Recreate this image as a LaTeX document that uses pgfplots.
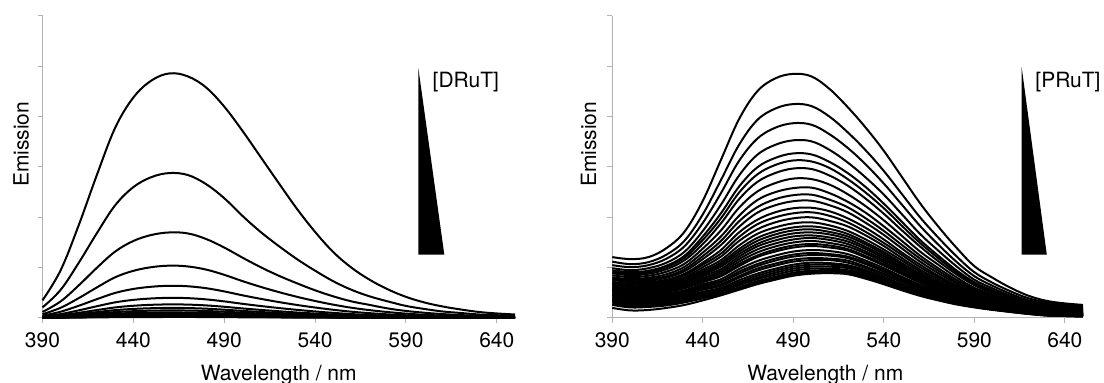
\documentclass[border=0pt]{standalone}
\usepackage{pgfplots}
\pgfplotsset{compat=1.18}
\usepackage{fontspec}
\setmainfont{TeX Gyre Heros}

\pgfplotsset{
  emission panel/.style={
    scale only axis,
    height=151pt,
    xmin=390, xmax=650, ymin=0, ymax=6,
    axis lines*=left,
    axis line style={draw=black!30, line width=0.5pt},
    xtick={390,440,490,540,590,640},
    ytick={0,1,2,3,4,5,6},
    yticklabels={},
    tick style={draw=black!30, line width=0.5pt},
    tick align=outside,
    major tick length=2.5pt,
    /pgf/number format/assume math mode=true,
    /pgf/number format/1000 sep={},
    xticklabel style={font=\fontsize{10.5}{12}\selectfont, anchor=north, inner sep=0pt, yshift=-4.5pt},
    label style={font=\fontsize{10.5}{12}\selectfont, inner sep=0pt},
    xlabel={Wavelength / nm},
    ylabel={Emission},
    clip=false,
  },
  sp/.style={draw=black, line width=1pt, smooth, tension=0.6, mark=none},
  wedge/.style={fill=black, draw=none, sharp plot, mark=none},
}

\begin{document}
\begin{tikzpicture}
\useasboundingbox (-21.25pt,-32.5pt) rectangle (530.75pt,159pt);

% ---------------- DRuT titration ----------------
\begin{axis}[emission panel,
  width=236.25pt,
  at={(0pt,0pt)}, anchor=south west,
  xlabel style={at={(axis description cs:0.5,-0.207)}, anchor=base},
  ylabel style={at={(axis description cs:-0.0296,0.575)}, anchor=base},
]
\addplot[sp] coordinates {(390,0.35)(400,0.95)(410,1.85)(420,2.85)(430,3.78)(440,4.38)(450,4.72)(460,4.86)(470,4.80)(480,4.58)(490,4.20)(500,3.72)(510,3.20)(520,2.68)(530,2.17)(540,1.71)(550,1.31)(560,1.00)(570,0.76)(580,0.57)(590,0.42)(600,0.31)(610,0.23)(620,0.17)(630,0.12)(640,0.09)(650,0.07)};
\addplot[sp] coordinates {(390,0.21)(400,0.56)(410,1.10)(420,1.69)(430,2.24)(440,2.60)(450,2.80)(460,2.88)(470,2.84)(480,2.66)(490,2.38)(500,2.03)(510,1.71)(520,1.43)(530,1.17)(540,0.94)(550,0.73)(560,0.56)(570,0.43)(580,0.33)(590,0.24)(600,0.18)(610,0.13)(620,0.10)(630,0.07)(640,0.055)(650,0.04)};
\addplot[sp] coordinates {(390,0.12)(400,0.33)(410,0.65)(420,1.00)(430,1.32)(440,1.53)(450,1.65)(460,1.70)(470,1.68)(480,1.57)(490,1.40)(500,1.20)(510,1.01)(520,0.84)(530,0.69)(540,0.55)(550,0.43)(560,0.33)(570,0.26)(580,0.19)(590,0.14)(600,0.105)(610,0.078)(620,0.058)(630,0.043)(640,0.032)(650,0.024)};
\addplot[sp] coordinates {(390,0.075)(400,0.203)(410,0.396)(420,0.609)(430,0.809)(440,0.937)(450,1.010)(460,1.040)(470,1.024)(480,0.962)(490,0.858)(500,0.733)(510,0.619)(520,0.515)(530,0.421)(540,0.338)(550,0.265)(560,0.204)(570,0.156)(580,0.118)(590,0.087)(600,0.064)(610,0.048)(620,0.035)(630,0.026)(640,0.020)(650,0.015)};
\addplot[sp] coordinates {(390,0.046)(400,0.125)(410,0.244)(420,0.375)(430,0.498)(440,0.577)(450,0.621)(460,0.640)(470,0.630)(480,0.592)(490,0.528)(500,0.451)(510,0.381)(520,0.317)(530,0.259)(540,0.208)(550,0.163)(560,0.125)(570,0.096)(580,0.072)(590,0.054)(600,0.040)(610,0.029)(620,0.022)(630,0.016)(640,0.012)(650,0.009)};
\addplot[sp] coordinates {(390,0.029)(400,0.078)(410,0.152)(420,0.234)(430,0.311)(440,0.360)(450,0.388)(460,0.400)(470,0.394)(480,0.370)(490,0.330)(500,0.282)(510,0.238)(520,0.198)(530,0.162)(540,0.130)(550,0.102)(560,0.078)(570,0.060)(580,0.045)(590,0.034)(600,0.025)(610,0.018)(620,0.014)(630,0.010)(640,0.008)(650,0.006)};
\addplot[sp] coordinates {(390,0.019)(400,0.053)(410,0.103)(420,0.158)(430,0.210)(440,0.243)(450,0.262)(460,0.270)(470,0.266)(480,0.250)(490,0.223)(500,0.190)(510,0.161)(520,0.134)(530,0.109)(540,0.088)(550,0.069)(560,0.053)(570,0.041)(580,0.031)(590,0.023)(600,0.017)(610,0.012)(620,0.009)(630,0.007)(640,0.005)(650,0.004)};
\addplot[sp] coordinates {(390,0.014)(400,0.039)(410,0.076)(420,0.117)(430,0.156)(440,0.180)(450,0.194)(460,0.200)(470,0.197)(480,0.185)(490,0.165)(500,0.141)(510,0.119)(520,0.099)(530,0.081)(540,0.065)(550,0.051)(560,0.039)(570,0.030)(580,0.023)(590,0.017)(600,0.012)(610,0.009)(620,0.007)(630,0.005)(640,0.004)(650,0.003)};
\addplot[sp] coordinates {(390,0.011)(400,0.029)(410,0.057)(420,0.088)(430,0.117)(440,0.135)(450,0.146)(460,0.150)(470,0.148)(480,0.139)(490,0.124)(500,0.106)(510,0.089)(520,0.074)(530,0.061)(540,0.049)(550,0.038)(560,0.029)(570,0.023)(580,0.017)(590,0.013)(600,0.009)(610,0.007)(620,0.005)(630,0.004)(640,0.003)(650,0.002)};
\addplot[sp] coordinates {(390,0.008)(400,0.021)(410,0.042)(420,0.064)(430,0.086)(440,0.099)(450,0.107)(460,0.110)(470,0.108)(480,0.102)(490,0.091)(500,0.078)(510,0.065)(520,0.054)(530,0.045)(540,0.036)(550,0.028)(560,0.022)(570,0.017)(580,0.012)(590,0.009)(600,0.007)(610,0.005)(620,0.004)(630,0.003)(640,0.002)(650,0.002)};
\addplot[sp] coordinates {(390,0.006)(400,0.016)(410,0.030)(420,0.047)(430,0.062)(440,0.072)(450,0.078)(460,0.080)(470,0.079)(480,0.074)(490,0.066)(500,0.056)(510,0.048)(520,0.040)(530,0.032)(540,0.026)(550,0.020)(560,0.016)(570,0.012)(580,0.009)(590,0.007)(600,0.005)(610,0.004)(620,0.003)(630,0.002)(640,0.002)(650,0.001)};
\addplot[sp] coordinates {(390,0.004)(400,0.011)(410,0.021)(420,0.032)(430,0.043)(440,0.050)(450,0.053)(460,0.055)(470,0.054)(480,0.051)(490,0.045)(500,0.039)(510,0.033)(520,0.027)(530,0.022)(540,0.018)(550,0.014)(560,0.011)(570,0.008)(580,0.006)(590,0.005)(600,0.003)(610,0.003)(620,0.002)(630,0.001)(640,0.001)(650,0.001)};
\addplot[sp] coordinates {(390,0.003)(400,0.007)(410,0.013)(420,0.021)(430,0.027)(440,0.032)(450,0.034)(460,0.035)(470,0.034)(480,0.032)(490,0.029)(500,0.025)(510,0.021)(520,0.017)(530,0.014)(540,0.011)(550,0.009)(560,0.007)(570,0.005)(580,0.004)(590,0.003)(600,0.002)(610,0.002)(620,0.001)(630,0.001)(640,0.001)(650,0.000)};
\addplot[sp] coordinates {(390,0.001)(400,0.004)(410,0.008)(420,0.012)(430,0.016)(440,0.018)(450,0.019)(460,0.020)(470,0.020)(480,0.019)(490,0.017)(500,0.014)(510,0.012)(520,0.010)(530,0.008)(540,0.007)(550,0.005)(560,0.004)(570,0.003)(580,0.002)(590,0.002)(600,0.001)(610,0.001)(620,0.001)(630,0.001)(640,0.000)(650,0.000)};
% concentration wedge
\addplot[wedge] coordinates {(596.8,4.97)(596.8,1.26)(611.1,1.26)} -- cycle;
\node[anchor=base west, inner sep=0pt, font=\fontsize{10.5}{12}\selectfont] at (axis cs:604.5,4.585) {[DRuT]};
\end{axis}

% ---------------- PRuT titration ----------------
\begin{axis}[emission panel,
  width=235.35pt,
  at={(284.9pt,0pt)}, anchor=south west,
  xlabel style={at={(axis description cs:0.4527,-0.207)}, anchor=base},
  ylabel style={at={(axis description cs:-0.0346,0.575)}, anchor=base},
]
\addplot[sp] coordinates {(390,1.21)(400,1.17)(410,1.21)(420,1.39)(430,1.72)(440,2.33)(450,3.14)(460,3.95)(470,4.50)(480,4.76)(490,4.85)(500,4.80)(510,4.55)(520,4.19)(530,3.78)(540,3.32)(550,2.80)(560,2.28)(570,1.82)(580,1.40)(590,1.03)(600,0.80)(610,0.60)(620,0.44)(630,0.34)(640,0.29)(650,0.26)};
\addplot[sp] coordinates {(390,1.12)(400,1.07)(410,1.11)(420,1.26)(430,1.54)(440,2.06)(450,2.74)(460,3.44)(470,3.93)(480,4.16)(490,4.25)(500,4.21)(510,4.00)(520,3.69)(530,3.33)(540,2.92)(550,2.46)(560,2.00)(570,1.60)(580,1.23)(590,0.91)(600,0.70)(610,0.53)(620,0.39)(630,0.31)(640,0.26)(650,0.23)};
\addplot[sp] coordinates {(390,1.05)(400,1.01)(410,1.05)(420,1.18)(430,1.43)(440,1.89)(450,2.48)(460,3.12)(470,3.56)(480,3.78)(490,3.87)(500,3.84)(510,3.65)(520,3.38)(530,3.05)(540,2.67)(550,2.25)(560,1.83)(570,1.46)(580,1.12)(590,0.83)(600,0.64)(610,0.48)(620,0.35)(630,0.28)(640,0.24)(650,0.21)};
\addplot[sp] coordinates {(390,0.99)(400,0.95)(410,0.99)(420,1.10)(430,1.32)(440,1.73)(450,2.25)(460,2.83)(470,3.24)(480,3.44)(490,3.53)(500,3.51)(510,3.34)(520,3.09)(530,2.79)(540,2.45)(550,2.06)(560,1.67)(570,1.34)(580,1.03)(590,0.76)(600,0.59)(610,0.44)(620,0.32)(630,0.25)(640,0.21)(650,0.19)};
\addplot[sp] coordinates {(390,0.95)(400,0.91)(410,0.94)(420,1.04)(430,1.24)(440,1.62)(450,2.08)(460,2.61)(470,2.99)(480,3.18)(490,3.27)(500,3.25)(510,3.10)(520,2.88)(530,2.60)(540,2.27)(550,1.91)(560,1.55)(570,1.24)(580,0.95)(590,0.71)(600,0.55)(610,0.41)(620,0.30)(630,0.23)(640,0.20)(650,0.18)};
\addplot[sp] coordinates {(390,0.92)(400,0.88)(410,0.91)(420,1.01)(430,1.20)(440,1.55)(450,1.98)(460,2.49)(470,2.85)(480,3.04)(490,3.13)(500,3.11)(510,2.98)(520,2.76)(530,2.49)(540,2.18)(550,1.83)(560,1.49)(570,1.19)(580,0.91)(590,0.68)(600,0.53)(610,0.39)(620,0.29)(630,0.22)(640,0.19)(650,0.17)};
\addplot[sp] coordinates {(390,0.89)(400,0.85)(410,0.88)(420,0.97)(430,1.15)(440,1.47)(450,1.88)(460,2.36)(470,2.70)(480,2.88)(490,2.97)(500,2.96)(510,2.83)(520,2.63)(530,2.37)(540,2.07)(550,1.74)(560,1.42)(570,1.13)(580,0.87)(590,0.65)(600,0.50)(610,0.37)(620,0.27)(630,0.21)(640,0.18)(650,0.16)};
\addplot[sp] coordinates {(390,0.85)(400,0.81)(410,0.84)(420,0.92)(430,1.08)(440,1.38)(450,1.74)(460,2.19)(470,2.51)(480,2.68)(490,2.77)(500,2.76)(510,2.65)(520,2.46)(530,2.22)(540,1.94)(550,1.63)(560,1.32)(570,1.06)(580,0.81)(590,0.60)(600,0.47)(610,0.35)(620,0.25)(630,0.19)(640,0.17)(650,0.15)};
\addplot[sp] coordinates {(390,0.81)(400,0.77)(410,0.80)(420,0.87)(430,1.02)(440,1.30)(450,1.62)(460,2.03)(470,2.34)(480,2.50)(490,2.58)(500,2.59)(510,2.48)(520,2.31)(530,2.09)(540,1.82)(550,1.53)(560,1.24)(570,0.99)(580,0.76)(590,0.57)(600,0.44)(610,0.33)(620,0.24)(630,0.18)(640,0.15)(650,0.13)};
\addplot[sp] coordinates {(390,0.78)(400,0.74)(410,0.77)(420,0.83)(430,0.97)(440,1.23)(450,1.53)(460,1.92)(470,2.20)(480,2.36)(490,2.44)(500,2.45)(510,2.35)(520,2.20)(530,1.98)(540,1.73)(550,1.45)(560,1.18)(570,0.94)(580,0.72)(590,0.54)(600,0.42)(610,0.31)(620,0.22)(630,0.17)(640,0.14)(650,0.13)};
\addplot[sp] coordinates {(390,0.76)(400,0.71)(410,0.74)(420,0.80)(430,0.93)(440,1.17)(450,1.45)(460,1.81)(470,2.09)(480,2.24)(490,2.32)(500,2.33)(510,2.24)(520,2.10)(530,1.89)(540,1.65)(550,1.38)(560,1.12)(570,0.89)(580,0.69)(590,0.51)(600,0.40)(610,0.30)(620,0.21)(630,0.16)(640,0.14)(650,0.12)};
\addplot[sp] coordinates {(390,0.72)(400,0.68)(410,0.71)(420,0.76)(430,0.88)(440,1.10)(450,1.35)(460,1.70)(470,1.95)(480,2.10)(490,2.18)(500,2.19)(510,2.12)(520,1.98)(530,1.79)(540,1.56)(550,1.30)(560,1.06)(570,0.84)(580,0.65)(590,0.49)(600,0.37)(610,0.28)(620,0.20)(630,0.15)(640,0.13)(650,0.11)};
\addplot[sp] coordinates {(390,0.70)(400,0.66)(410,0.68)(420,0.73)(430,0.85)(440,1.06)(450,1.28)(460,1.61)(470,1.86)(480,2.00)(490,2.08)(500,2.10)(510,2.03)(520,1.90)(530,1.71)(540,1.49)(550,1.25)(560,1.01)(570,0.81)(580,0.62)(590,0.46)(600,0.36)(610,0.27)(620,0.19)(630,0.14)(640,0.12)(650,0.10)};
\addplot[sp] coordinates {(390,0.68)(400,0.63)(410,0.65)(420,0.70)(430,0.81)(440,1.01)(450,1.22)(460,1.53)(470,1.76)(480,1.90)(490,1.98)(500,2.00)(510,1.93)(520,1.82)(530,1.64)(540,1.43)(550,1.19)(560,0.96)(570,0.77)(580,0.59)(590,0.44)(600,0.34)(610,0.26)(620,0.18)(630,0.14)(640,0.11)(650,0.10)};
\addplot[sp] coordinates {(390,0.65)(400,0.61)(410,0.63)(420,0.68)(430,0.78)(440,0.96)(450,1.15)(460,1.44)(470,1.67)(480,1.80)(490,1.88)(500,1.90)(510,1.84)(520,1.73)(530,1.56)(540,1.36)(550,1.14)(560,0.92)(570,0.73)(580,0.56)(590,0.42)(600,0.33)(610,0.25)(620,0.17)(630,0.13)(640,0.11)(650,0.09)};
\addplot[sp] coordinates {(390,0.63)(400,0.58)(410,0.61)(420,0.65)(430,0.75)(440,0.92)(450,1.10)(460,1.37)(470,1.59)(480,1.72)(490,1.80)(500,1.82)(510,1.77)(520,1.67)(530,1.50)(540,1.31)(550,1.09)(560,0.88)(570,0.70)(580,0.54)(590,0.41)(600,0.31)(610,0.24)(620,0.17)(630,0.12)(640,0.10)(650,0.09)};
\addplot[sp] coordinates {(390,0.61)(400,0.57)(410,0.59)(420,0.63)(430,0.72)(440,0.89)(450,1.06)(460,1.32)(470,1.53)(480,1.66)(490,1.74)(500,1.76)(510,1.71)(520,1.62)(530,1.46)(540,1.27)(550,1.06)(560,0.85)(570,0.68)(580,0.52)(590,0.40)(600,0.30)(610,0.23)(620,0.16)(630,0.12)(640,0.10)(650,0.08)};
\addplot[sp] coordinates {(390,0.60)(400,0.55)(410,0.57)(420,0.61)(430,0.70)(440,0.86)(450,1.02)(460,1.27)(470,1.47)(480,1.60)(490,1.68)(500,1.70)(510,1.66)(520,1.57)(530,1.41)(540,1.23)(550,1.02)(560,0.83)(570,0.66)(580,0.51)(590,0.38)(600,0.29)(610,0.22)(620,0.16)(630,0.11)(640,0.10)(650,0.08)};
\addplot[sp] coordinates {(390,0.58)(400,0.53)(410,0.55)(420,0.59)(430,0.68)(440,0.83)(450,0.97)(460,1.22)(470,1.42)(480,1.54)(490,1.62)(500,1.64)(510,1.60)(520,1.52)(530,1.37)(540,1.19)(550,0.99)(560,0.80)(570,0.64)(580,0.49)(590,0.37)(600,0.29)(610,0.21)(620,0.15)(630,0.11)(640,0.09)(650,0.08)};
\addplot[sp] coordinates {(390,0.56)(400,0.51)(410,0.54)(420,0.57)(430,0.65)(440,0.79)(450,0.93)(460,1.17)(470,1.36)(480,1.48)(490,1.56)(500,1.59)(510,1.55)(520,1.47)(530,1.32)(540,1.15)(550,0.96)(560,0.77)(570,0.62)(580,0.47)(590,0.36)(600,0.28)(610,0.21)(620,0.15)(630,0.10)(640,0.09)(650,0.07)};
\addplot[sp] coordinates {(390,0.54)(400,0.50)(410,0.52)(420,0.55)(430,0.63)(440,0.76)(450,0.89)(460,1.12)(470,1.30)(480,1.42)(490,1.50)(500,1.53)(510,1.49)(520,1.42)(530,1.28)(540,1.11)(550,0.92)(560,0.74)(570,0.59)(580,0.46)(590,0.35)(600,0.27)(610,0.20)(620,0.14)(630,0.10)(640,0.08)(650,0.07)};
\addplot[sp] coordinates {(390,0.52)(400,0.48)(410,0.50)(420,0.53)(430,0.60)(440,0.73)(450,0.85)(460,1.07)(470,1.24)(480,1.36)(490,1.44)(500,1.47)(510,1.44)(520,1.37)(530,1.23)(540,1.07)(550,0.89)(560,0.72)(570,0.57)(580,0.44)(590,0.33)(600,0.26)(610,0.19)(620,0.13)(630,0.10)(640,0.08)(650,0.07)};
\addplot[sp] coordinates {(390,0.51)(400,0.46)(410,0.48)(420,0.52)(430,0.59)(440,0.71)(450,0.83)(460,1.03)(470,1.21)(480,1.32)(490,1.40)(500,1.43)(510,1.40)(520,1.34)(530,1.20)(540,1.04)(550,0.87)(560,0.70)(570,0.56)(580,0.43)(590,0.33)(600,0.25)(610,0.19)(620,0.13)(630,0.09)(640,0.08)(650,0.06)};
\addplot[sp] coordinates {(390,0.48)(400,0.44)(410,0.45)(420,0.49)(430,0.55)(440,0.67)(450,0.77)(460,0.97)(470,1.13)(480,1.24)(490,1.32)(500,1.35)(510,1.33)(520,1.27)(530,1.14)(540,0.99)(550,0.82)(560,0.66)(570,0.53)(580,0.41)(590,0.31)(600,0.24)(610,0.18)(620,0.12)(630,0.09)(640,0.07)(650,0.06)};
\addplot[sp] coordinates {(390,0.46)(400,0.41)(410,0.43)(420,0.46)(430,0.53)(440,0.64)(450,0.73)(460,0.92)(470,1.07)(480,1.18)(490,1.26)(500,1.29)(510,1.27)(520,1.22)(530,1.10)(540,0.95)(550,0.79)(560,0.63)(570,0.50)(580,0.39)(590,0.30)(600,0.23)(610,0.17)(620,0.12)(630,0.08)(640,0.07)(650,0.06)};
\addplot[sp] coordinates {(390,0.45)(400,0.40)(410,0.42)(420,0.45)(430,0.51)(440,0.61)(450,0.71)(460,0.88)(470,1.03)(480,1.14)(490,1.22)(500,1.25)(510,1.24)(520,1.19)(530,1.07)(540,0.92)(550,0.76)(560,0.62)(570,0.49)(580,0.38)(590,0.29)(600,0.22)(610,0.17)(620,0.11)(630,0.08)(640,0.07)(650,0.05)};
\addplot[sp] coordinates {(390,0.42)(400,0.37)(410,0.39)(420,0.42)(430,0.48)(440,0.58)(450,0.67)(460,0.83)(470,0.98)(480,1.08)(490,1.16)(500,1.19)(510,1.18)(520,1.14)(530,1.02)(540,0.88)(550,0.73)(560,0.59)(570,0.47)(580,0.36)(590,0.28)(600,0.21)(610,0.16)(620,0.11)(630,0.07)(640,0.06)(650,0.05)};
\addplot[sp] coordinates {(390,0.41)(400,0.36)(410,0.37)(420,0.40)(430,0.46)(440,0.56)(450,0.64)(460,0.80)(470,0.94)(480,1.04)(490,1.12)(500,1.15)(510,1.15)(520,1.10)(530,0.99)(540,0.86)(550,0.71)(560,0.57)(570,0.45)(580,0.35)(590,0.27)(600,0.21)(610,0.15)(620,0.11)(630,0.07)(640,0.06)(650,0.05)};
\addplot[sp] coordinates {(390,0.38)(400,0.33)(410,0.35)(420,0.37)(430,0.43)(440,0.52)(450,0.60)(460,0.75)(470,0.88)(480,0.98)(490,1.06)(500,1.10)(510,1.09)(520,1.05)(530,0.95)(540,0.82)(550,0.67)(560,0.54)(570,0.43)(580,0.33)(590,0.26)(600,0.20)(610,0.15)(620,0.10)(630,0.07)(640,0.05)(650,0.04)};
\addplot[sp] coordinates {(390,0.36)(400,0.31)(410,0.32)(420,0.35)(430,0.41)(440,0.50)(450,0.57)(460,0.71)(470,0.84)(480,0.94)(490,1.02)(500,1.06)(510,1.06)(520,1.02)(530,0.92)(540,0.79)(550,0.65)(560,0.52)(570,0.42)(580,0.32)(590,0.25)(600,0.19)(610,0.14)(620,0.10)(630,0.06)(640,0.05)(650,0.04)};
\addplot[sp] coordinates {(390,0.34)(400,0.29)(410,0.30)(420,0.33)(430,0.38)(440,0.47)(450,0.54)(460,0.68)(470,0.80)(480,0.90)(490,0.98)(500,1.02)(510,1.02)(520,0.99)(530,0.89)(540,0.76)(550,0.63)(560,0.50)(570,0.40)(580,0.31)(590,0.24)(600,0.18)(610,0.14)(620,0.09)(630,0.06)(640,0.05)(650,0.04)};
\addplot[sp] coordinates {(390,0.31)(400,0.26)(410,0.27)(420,0.31)(430,0.36)(440,0.44)(450,0.52)(460,0.65)(470,0.77)(480,0.86)(490,0.94)(500,0.98)(510,0.98)(520,0.95)(530,0.86)(540,0.74)(550,0.61)(560,0.49)(570,0.39)(580,0.30)(590,0.23)(600,0.18)(610,0.13)(620,0.09)(630,0.06)(640,0.05)(650,0.04)};
\addplot[sp] coordinates {(390,0.28)(400,0.23)(410,0.25)(420,0.28)(430,0.33)(440,0.41)(450,0.49)(460,0.61)(470,0.73)(480,0.82)(490,0.90)(500,0.94)(510,0.95)(520,0.92)(530,0.83)(540,0.71)(550,0.58)(560,0.47)(570,0.37)(580,0.29)(590,0.22)(600,0.17)(610,0.13)(620,0.09)(630,0.05)(640,0.04)(650,0.03)};
\addplot[sp] coordinates {(390,0.26)(400,0.21)(410,0.22)(420,0.25)(430,0.31)(440,0.39)(450,0.47)(460,0.59)(470,0.70)(480,0.79)(490,0.87)(500,0.91)(510,0.92)(520,0.90)(530,0.80)(540,0.69)(550,0.57)(560,0.46)(570,0.36)(580,0.28)(590,0.22)(600,0.17)(610,0.12)(620,0.08)(630,0.05)(640,0.04)(650,0.03)};
\addplot[sp] coordinates {(390,0.20)(400,0.15)(410,0.16)(420,0.20)(430,0.26)(440,0.35)(450,0.45)(460,0.56)(470,0.67)(480,0.76)(490,0.84)(500,0.88)(510,0.89)(520,0.87)(530,0.78)(540,0.67)(550,0.55)(560,0.44)(570,0.35)(580,0.27)(590,0.21)(600,0.16)(610,0.12)(620,0.08)(630,0.05)(640,0.04)(650,0.03)};
% concentration wedge
\addplot[wedge] coordinates {(616.1,4.99)(616.1,1.26)(630.0,1.26)} -- cycle;
\node[anchor=base west, inner sep=0pt, font=\fontsize{10.5}{12}\selectfont] at (axis cs:623.5,4.58) {[PRuT]};
\end{axis}
\end{tikzpicture}
\end{document}
